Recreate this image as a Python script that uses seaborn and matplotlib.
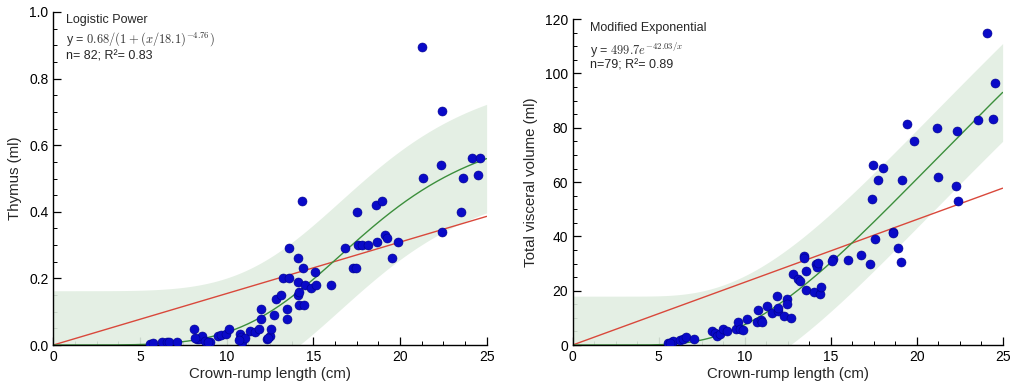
import numpy as np
import pandas as pd
import seaborn as sns
import matplotlib.pyplot as plt
from matplotlib.ticker import MultipleLocator

# Thymus volume vs crown-rump length (left panel)
thymus_crl = [5.58, 5.77, 6.29, 6.54, 6.67, 7.15, 8.13, 8.27, 8.42, 8.60, 8.75, 9.04, 8.95,
              9.52, 9.67, 9.94, 10.13, 10.77, 10.80, 10.87, 11.06, 11.35, 11.63, 11.88, 11.96,
              11.96, 12.35, 12.50, 12.54, 12.73, 12.83, 13.12, 13.23, 13.50, 13.50, 13.62, 13.62,
              14.10, 14.13, 14.20, 14.13, 14.20, 14.46, 14.42, 14.52, 14.85, 15.10, 15.13, 16.02,
              16.83, 17.30, 17.46, 17.60, 17.83, 18.13, 18.70, 19.13, 19.23, 19.52, 19.90, 22.40,
              14.33, 17.50, 18.62, 18.95, 21.35, 22.35, 23.53, 23.62, 24.14, 24.62, 24.52, 21.26,
              22.45, 8.18, 10.70, 12.40]
thymus_ml = [0.003, 0.005, 0.008, 0.008, 0.008, 0.008, 0.048, 0.018, 0.018, 0.028, 0.013, 0.008, 0.008,
             0.028, 0.030, 0.032, 0.048, 0.032, 0.025, 0.008, 0.020, 0.042, 0.040, 0.048, 0.079,
             0.109, 0.018, 0.028, 0.048, 0.089, 0.139, 0.149, 0.200, 0.109, 0.079, 0.200, 0.291,
             0.149, 0.190, 0.160, 0.260, 0.119, 0.119, 0.230, 0.180, 0.170, 0.220, 0.180, 0.180,
             0.291, 0.230, 0.230, 0.300, 0.300, 0.300, 0.310, 0.331, 0.320, 0.260, 0.310, 0.340,
             0.431, 0.400, 0.421, 0.431, 0.502, 0.542, 0.400, 0.502, 0.563, 0.563, 0.512, 0.894,
             0.704, 0.020, 0.015, 0.020]

# Total visceral volume vs crown-rump length (right panel)
visc_crl = [5.56, 5.76, 5.81, 6.24, 6.40, 6.57, 7.07, 8.08, 8.28, 8.37, 8.57, 8.72, 8.95,
            9.48, 9.63, 9.73, 9.92, 10.12, 10.70, 10.80, 10.95, 10.99, 11.28, 11.57, 11.86,
            11.92, 11.96, 12.29, 12.48, 12.48, 12.67, 12.79, 13.12, 13.22, 13.47, 13.47, 13.57,
            13.57, 14.05, 14.13, 14.19, 14.28, 14.38, 14.44, 15.16, 15.10, 15.99, 16.76, 17.29,
            17.58, 18.64, 18.64, 18.90, 19.09, 24.07, 24.55, 24.45, 23.58, 22.36, 22.27, 22.38,
            21.26, 21.16, 19.86, 19.45, 19.16, 18.02, 17.48, 17.77, 17.38, 5.66]
visc_ml = [0.6, 1.0, 1.5, 1.8, 2.2, 3.1, 2.1, 5.2, 4.3, 3.3, 3.9, 5.9, 5.2,
           5.8, 8.4, 5.8, 5.5, 9.5, 8.4, 12.9, 9.2, 8.4, 14.4, 11.9, 18.1,
           12.5, 13.5, 10.5, 16.9, 15.1, 9.8, 26.1, 24.2, 23.7, 32.8, 32.0, 27.1,
           20.3, 19.7, 29.8, 28.9, 30.1, 18.7, 21.3, 31.7, 30.8, 31.4, 33.2, 29.8,
           39.0, 41.8, 41.2, 35.7, 30.4, 114.8, 96.6, 83.4, 82.7, 78.7, 58.4, 53.1,
           61.9, 80.0, 75.3, 81.4, 60.6, 65.2, 66.4, 60.6, 53.9, 0.85]

# fitted models (from the equations on the chart) and linear fits through origin
thy_a, thy_b, thy_c = 0.68, 18.1, -4.76
thy_band = 0.163
thy_slope = 0.01545
vis_a, vis_b = 499.7, 42.03
vis_band = 18.0
vis_slope = 2.31

sns.set_theme(style="ticks")
plt.rcParams['font.family'] = ['Liberation Sans', 'DejaVu Sans']
plt.rcParams['mathtext.fontset'] = 'cm'

fig = plt.figure(figsize=(10.1, 3.87), dpi=100)
ax1 = fig.add_axes([0.0528, 0.1085, 0.4290, 0.8605])
ax2 = fig.add_axes([0.5670, 0.1085, 0.4257, 0.8420])

xs = np.linspace(0.01, 25, 400)
fits = pd.DataFrame({
    "x": xs,
    "thy": thy_a / (1 + (xs / thy_b) ** thy_c),
    "vis": vis_a * np.exp(-vis_b / xs),
})

green = "#3c8f3c"
red = "#d9483b"
band = "#e1eee1"
dot = "#0a0ac8"

def style(ax):
    for s in ["top", "right"]:
        ax.spines[s].set_visible(False)
    for s in ["left", "bottom"]:
        ax.spines[s].set_color("black")
        ax.spines[s].set_linewidth(1.0)
    ax.tick_params(which="both", direction="in", colors="black", labelsize=10)
    ax.tick_params(which="major", length=6, width=0.9)
    ax.tick_params(which="minor", length=3, width=0.7)
    ax.xaxis.set_major_locator(MultipleLocator(5))
    ax.xaxis.set_minor_locator(MultipleLocator(1.25))
    ax.set_xlim(0, 25)
    ax.set_xlabel("Crown-rump length (cm)", fontsize=10.8, labelpad=2)

# left panel
ax1.fill_between(fits["x"], fits["thy"] - thy_band, fits["thy"] + thy_band,
                 color=band, alpha=0.9, lw=0)
ax1.plot(fits["x"], thy_slope * fits["x"], color=red, lw=1.0)
sns.lineplot(data=fits, x="x", y="thy", ax=ax1, color=green, lw=1.0)
sns.scatterplot(x=thymus_crl, y=thymus_ml, ax=ax1, color=dot, s=42,
                edgecolor="#00008b", linewidth=0.4, zorder=5)
ax1.set_ylim(0, 1.0)
ax1.yaxis.set_major_locator(MultipleLocator(0.2))
ax1.yaxis.set_minor_locator(MultipleLocator(0.05))
style(ax1)
ax1.set_ylabel("Thymus (ml)", fontsize=10.8, labelpad=5)
ax1.text(0.03, 0.995, "Logistic Power", transform=ax1.transAxes, va="top", fontsize=9)
ax1.text(0.03, 0.945, r"y = $0.68/(1+(x/18.1)^{-4.76})$", transform=ax1.transAxes,
         va="top", fontsize=9, color="#333333")
ax1.text(0.03, 0.885, "n= 82; R²= 0.83", transform=ax1.transAxes, va="top", fontsize=9)

# right panel
ax2.fill_between(fits["x"], fits["vis"] - vis_band, fits["vis"] + vis_band,
                 color=band, alpha=0.9, lw=0)
ax2.plot(fits["x"], vis_slope * fits["x"], color=red, lw=1.0)
sns.lineplot(data=fits, x="x", y="vis", ax=ax2, color=green, lw=1.0)
sns.scatterplot(x=visc_crl, y=visc_ml, ax=ax2, color=dot, s=42,
                edgecolor="#00008b", linewidth=0.4, zorder=5)
ax2.set_ylim(0, 120)
ax2.yaxis.set_major_locator(MultipleLocator(20))
ax2.yaxis.set_minor_locator(MultipleLocator(5))
style(ax2)
ax2.set_ylabel("Total visceral volume (ml)", fontsize=10.8, labelpad=5)
ax2.text(0.04, 0.99, "Modified Exponential", transform=ax2.transAxes, va="top", fontsize=9)
ax2.text(0.04, 0.935, r"y = $499.7e^{-42.03/x}$", transform=ax2.transAxes,
         va="top", fontsize=9, color="#333333")
ax2.text(0.04, 0.875, "n=79; R²= 0.89", transform=ax2.transAxes, va="top", fontsize=9)

fig.savefig("out.png", dpi=100)
